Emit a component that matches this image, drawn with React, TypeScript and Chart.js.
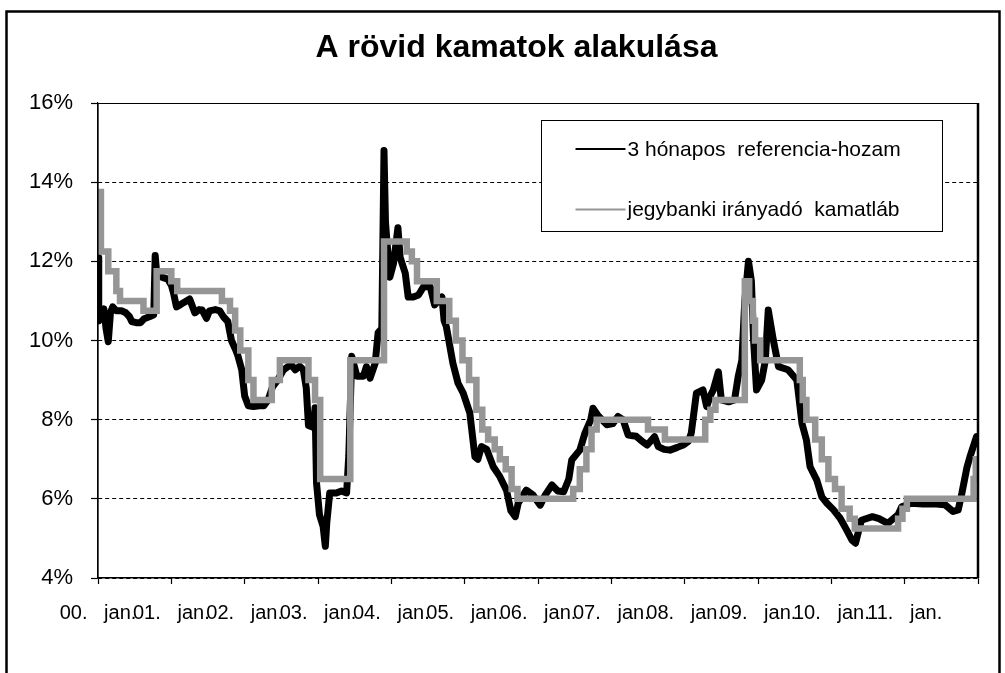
import React, { useEffect, useRef } from "react";
import { Chart, registerables } from "chart.js";

Chart.register(...registerables);

const chartTitle = "A rövid kamatok alakulása";
const seriesNames = ["3 hónapos  referencia-hozam", "jegybanki irányadó  kamatláb"];
const xTickLabels = [
  "00.   jan.", "01.   jan.", "02.   jan.", "03.   jan.", "04.   jan.", "05.   jan.",
  "06.   jan.", "07.   jan.", "08.   jan.", "09.   jan.", "10.   jan.", "11.   jan.",
];

// time in years since 2000 jan
const refT = [
  0.0, 0.01, 0.03, 0.05, 0.08, 0.11, 0.14, 0.17, 0.2, 0.25, 0.32, 0.38, 0.43, 0.46, 0.52, 0.58,
  0.63, 0.7, 0.76, 0.78, 0.8, 0.87, 0.95, 1.0, 1.03, 1.07, 1.12, 1.16, 1.25, 1.3, 1.32, 1.38,
  1.42, 1.48, 1.52, 1.6, 1.66, 1.71, 1.77, 1.82, 1.88, 1.91, 1.96, 2.0, 2.05, 2.12, 2.2, 2.26,
  2.32, 2.38, 2.45, 2.53, 2.6, 2.64, 2.69, 2.75, 2.8, 2.84, 2.87, 2.94, 2.96, 2.98, 3.02, 3.07,
  3.1, 3.12, 3.16, 3.25, 3.32, 3.39, 3.42, 3.46, 3.53, 3.62, 3.66, 3.71, 3.78, 3.82, 3.87, 3.9,
  3.92, 3.94, 3.98, 4.03, 4.09, 4.12, 4.19, 4.23, 4.3, 4.37, 4.44, 4.53, 4.59, 4.69, 4.72, 4.75,
  4.84, 4.91, 4.98, 5.07, 5.14, 5.18, 5.23, 5.3, 5.39, 5.48, 5.57, 5.63, 5.69, 5.73, 5.84, 5.93,
  6.03, 6.1, 6.19, 6.27, 6.35, 6.42, 6.46, 6.57, 6.64, 6.72, 6.75, 6.82, 6.94, 7.02, 7.09, 7.16,
  7.23, 7.34, 7.42, 7.49, 7.59, 7.64, 7.72, 7.8, 7.9, 7.98, 8.05, 8.09, 8.16, 8.25, 8.3, 8.35,
  8.39, 8.46, 8.5, 8.6, 8.68, 8.73, 8.78, 8.82, 8.87, 8.91, 8.94, 8.98, 9.05, 9.1, 9.14, 9.21,
  9.28, 9.41, 9.53, 9.6, 9.66, 9.71, 9.8, 9.87, 9.94, 10.03, 10.12, 10.21, 10.28, 10.33, 10.41, 10.56,
  10.65, 10.77, 10.91, 10.96, 11.09, 11.25, 11.43, 11.55, 11.66, 11.73, 11.78, 11.85, 11.89, 11.98,
];
const refV = [
  12.1, 10.5, 10.8, 10.6, 10.8, 10.3, 9.97, 10.7, 10.85, 10.75, 10.75, 10.7, 10.6, 10.48, 10.45, 10.45,
  10.55, 10.6, 10.65, 12.15, 11.7, 11.6, 11.55, 11.4, 11.2, 10.85, 10.9, 10.95, 11.05, 10.8, 10.7, 10.78,
  10.77, 10.56, 10.75, 10.78, 10.75, 10.6, 10.48, 10.0, 9.75, 9.6, 9.26, 8.6, 8.35, 8.33, 8.35, 8.35,
  8.5, 8.83, 9.0, 9.26, 9.35, 9.38, 9.26, 9.35, 9.26, 8.8, 7.85, 7.8, 8.3, 6.4, 5.6, 5.3,
  4.8, 5.4, 6.15, 6.15, 6.2, 6.15, 7.1, 9.6, 9.1, 9.1, 9.34, 9.05, 9.43, 10.2, 10.3, 14.8,
  13.0, 12.5, 11.6, 11.95, 12.85, 12.1, 11.7, 11.1, 11.1, 11.15, 11.36, 11.36, 10.9, 11.1, 10.5, 10.35,
  9.42, 8.92, 8.67, 8.17, 7.06, 7.0, 7.32, 7.25, 6.81, 6.56, 6.22, 5.7, 5.55, 5.89, 6.22, 6.1,
  5.84, 6.1, 6.35, 6.2, 6.18, 6.5, 6.98, 7.23, 7.66, 8.0, 8.29, 8.1, 7.87, 7.9, 8.08, 8.0,
  7.61, 7.58, 7.45, 7.36, 7.57, 7.32, 7.25, 7.23, 7.3, 7.36, 7.45, 7.66, 8.67, 8.75, 8.33, 8.6,
  8.75, 9.21, 8.5, 8.45, 8.5, 9.09, 9.5, 11.0, 12.0, 11.5, 10.0, 8.75, 9.0, 9.5, 10.77, 10.0,
  9.34, 9.26, 9.0, 7.9, 7.49, 6.81, 6.48, 6.05, 5.89, 5.72, 5.51, 5.21, 4.96, 4.88, 5.46, 5.55,
  5.5, 5.38, 5.6, 5.8, 5.89, 5.87, 5.87, 5.85, 5.68, 5.72, 6.14, 6.8, 7.06, 7.57,
];

// policy rate: change dates and the value from that date
const baseT = [
  0.0, 0.04, 0.14, 0.25, 0.3, 0.62, 0.8, 1.0, 1.08, 1.69, 1.8, 1.87, 1.94, 2.05, 2.12, 2.37,
  2.48, 2.87, 2.96, 3.03, 3.44, 3.9, 4.21, 4.28, 4.35, 4.62, 4.79, 4.88, 4.97, 5.06, 5.16, 5.24,
  5.32, 5.41, 5.48, 5.56, 5.64, 5.72, 6.48, 6.57, 6.66, 6.73, 6.8, 7.5, 7.73, 8.28, 8.35, 8.42,
  8.82, 8.88, 8.93, 8.96, 9.03, 9.57, 9.61, 9.66, 9.78, 9.87, 9.96, 10.05, 10.14, 10.25, 10.32, 10.91,
  10.97, 11.03, 11.94, 11.97, 11.99,
];
const baseV = [
  13.75, 12.25, 11.75, 11.25, 11.0, 10.75, 11.75, 11.5, 11.25, 11.0, 10.75, 10.25, 9.75, 9.0, 8.5, 9.0,
  9.5, 9.0, 8.5, 6.5, 9.5, 12.5, 12.25, 12.0, 11.5, 11.0, 10.5, 10.0, 9.5, 9.0, 8.25, 7.75,
  7.5, 7.25, 7.0, 6.75, 6.25, 6.0, 6.25, 6.75, 7.25, 7.75, 8.0, 7.75, 7.5, 8.0, 8.25, 8.5,
  11.5, 11.0, 10.5, 10.0, 9.5, 9.0, 8.5, 8.0, 7.5, 7.0, 6.5, 6.25, 5.75, 5.5, 5.25, 5.5,
  5.75, 6.0, 6.5, 7.0, 7.0,
];

const yTicks = [4, 6, 8, 10, 12, 14, 16];
const FONT = "'Liberation Sans', Arial, sans-serif";
const GRAY = "rgb(150,150,150)";

const decorPlugin = {
  id: "decor",
  beforeDraw(chart: any) {
    const ctx = chart.ctx;
    ctx.save();
    ctx.fillStyle = "#ffffff";
    ctx.fillRect(0, 0, chart.width, chart.height);
    // title
    ctx.fillStyle = "#000";
    ctx.font = `bold 32px ${FONT}`;
    ctx.textAlign = "center";
    ctx.textBaseline = "alphabetic";
    ctx.fillText(chartTitle, 516.5, 57);
    ctx.restore();
  },
  afterDatasetsDraw(chart: any) {
    const ctx = chart.ctx;
    const a = chart.chartArea;
    ctx.save();
    // plot area border
    ctx.strokeStyle = "#000";
    ctx.lineWidth = 1.2;
    ctx.beginPath();
    ctx.moveTo(a.left, a.bottom);
    ctx.lineTo(a.left, a.top + 0.5);
    ctx.lineTo(a.right, a.top + 0.5);
    ctx.stroke();
    ctx.lineWidth = 2.5;
    ctx.beginPath();
    ctx.moveTo(a.right, a.top);
    ctx.lineTo(a.right, a.bottom);
    ctx.stroke();

    // legend box
    const bx = a.left + 443.5;
    const by = a.top + 17.5;
    const bw = 401;
    const bh = 111;
    ctx.fillStyle = "#fff";
    ctx.fillRect(bx, by, bw, bh);
    ctx.lineWidth = 1;
    ctx.strokeStyle = "#000";
    ctx.strokeRect(bx, by, bw, bh);
    const colors = ["#000", GRAY];
    const rows = [by + 28.5, by + 89];
    ctx.font = `21px ${FONT}`;
    ctx.textBaseline = "middle";
    ctx.textAlign = "left";
    for (let i = 0; i < 2; i++) {
      ctx.strokeStyle = colors[i];
      ctx.lineWidth = 2;
      ctx.beginPath();
      ctx.moveTo(bx + 34, rows[i]);
      ctx.lineTo(bx + 84, rows[i]);
      ctx.stroke();
      ctx.fillStyle = "#000";
      ctx.fillText(seriesNames[i], bx + 86, rows[i] + 1);
    }
    ctx.restore();
  },
  afterDraw(chart: any) {
    const ctx = chart.ctx;
    ctx.save();
    ctx.strokeStyle = "#000";
    ctx.lineWidth = 2.5;
    ctx.strokeRect(6.5, 11.5, 993, 720);
    ctx.restore();
  },
};

export default function App() {
  const canvasRef = useRef<HTMLCanvasElement | null>(null);

  useEffect(() => {
    const canvas = canvasRef.current;
    if (!canvas) return;
    const refData = refT.map((t, i) => ({ x: t, y: refV[i] }));
    const baseData = baseT.map((t, i) => ({ x: t, y: baseV[i] }));
    const chart = new Chart(canvas, {
      type: "line",
      data: {
        datasets: [
          {
            label: seriesNames[0],
            data: refData,
            borderColor: "#000",
            backgroundColor: "#000",
            borderWidth: 7,
            pointRadius: 0,
            tension: 0,
            borderJoinStyle: "round",
            borderCapStyle: "round",
            order: 2,
          },
          {
            label: seriesNames[1],
            data: baseData,
            borderColor: GRAY,
            backgroundColor: GRAY,
            borderWidth: 6.5,
            pointRadius: 0,
            stepped: "before",
            borderJoinStyle: "miter",
            order: 1,
          },
        ],
      },
      options: {
        animation: false,
        responsive: false,
        devicePixelRatio: 1,
        layout: { padding: { left: 0, right: 27, top: 103, bottom: 0 } },
        plugins: {
          legend: { display: false },
          tooltip: { enabled: false },
          title: { display: false },
        },
        scales: {
          x: {
            type: "linear",
            min: 0,
            max: 12,
            afterBuildTicks: (scale: any) => {
              scale.ticks = Array.from({ length: 13 }, (_, i) => ({ value: i }));
            },
            afterFit: (scale: any) => {
              scale.height = 95;
            },
            ticks: {
              autoSkip: false,
              maxRotation: 0,
              minRotation: 0,
              padding: 17,
              color: "#000",
              font: { family: FONT, size: 20 },
              callback: (v: any) => (xTickLabels[Math.round(Number(v))] ?? ""),
            },
            grid: {
              drawOnChartArea: false,
              drawTicks: true,
              tickLength: 6,
              tickColor: "#000",
              tickWidth: 1.2,
            },
            border: { display: true, color: "#000", width: 1.5 },
          },
          y: {
            type: "linear",
            min: 4,
            max: 16,
            afterBuildTicks: (scale: any) => {
              scale.ticks = yTicks.map((v) => ({ value: v }));
            },
            afterFit: (scale: any) => {
              scale.width = 98;
            },
            ticks: {
              padding: 18,
              color: "#000",
              font: { family: FONT, size: 22 },
              callback: (v: any) => `${v}%`,
            },
            grid: {
              color: "#000",
              lineWidth: 1,
              drawTicks: true,
              tickLength: 7,
              tickColor: "#000",
              tickWidth: 1.2,
            },
            border: { display: true, color: "#000", width: 1.2, dash: [4, 3] },
          },
        },
      },
      plugins: [decorPlugin],
    } as any);
    return () => chart.destroy();
  }, []);

  return (
    <div style={{ position: "fixed", left: 0, top: 0, width: 1005, height: 673, background: "#fff" }}>
      <canvas ref={canvasRef} width={1005} height={673} style={{ display: "block" }} />
    </div>
  );
}
